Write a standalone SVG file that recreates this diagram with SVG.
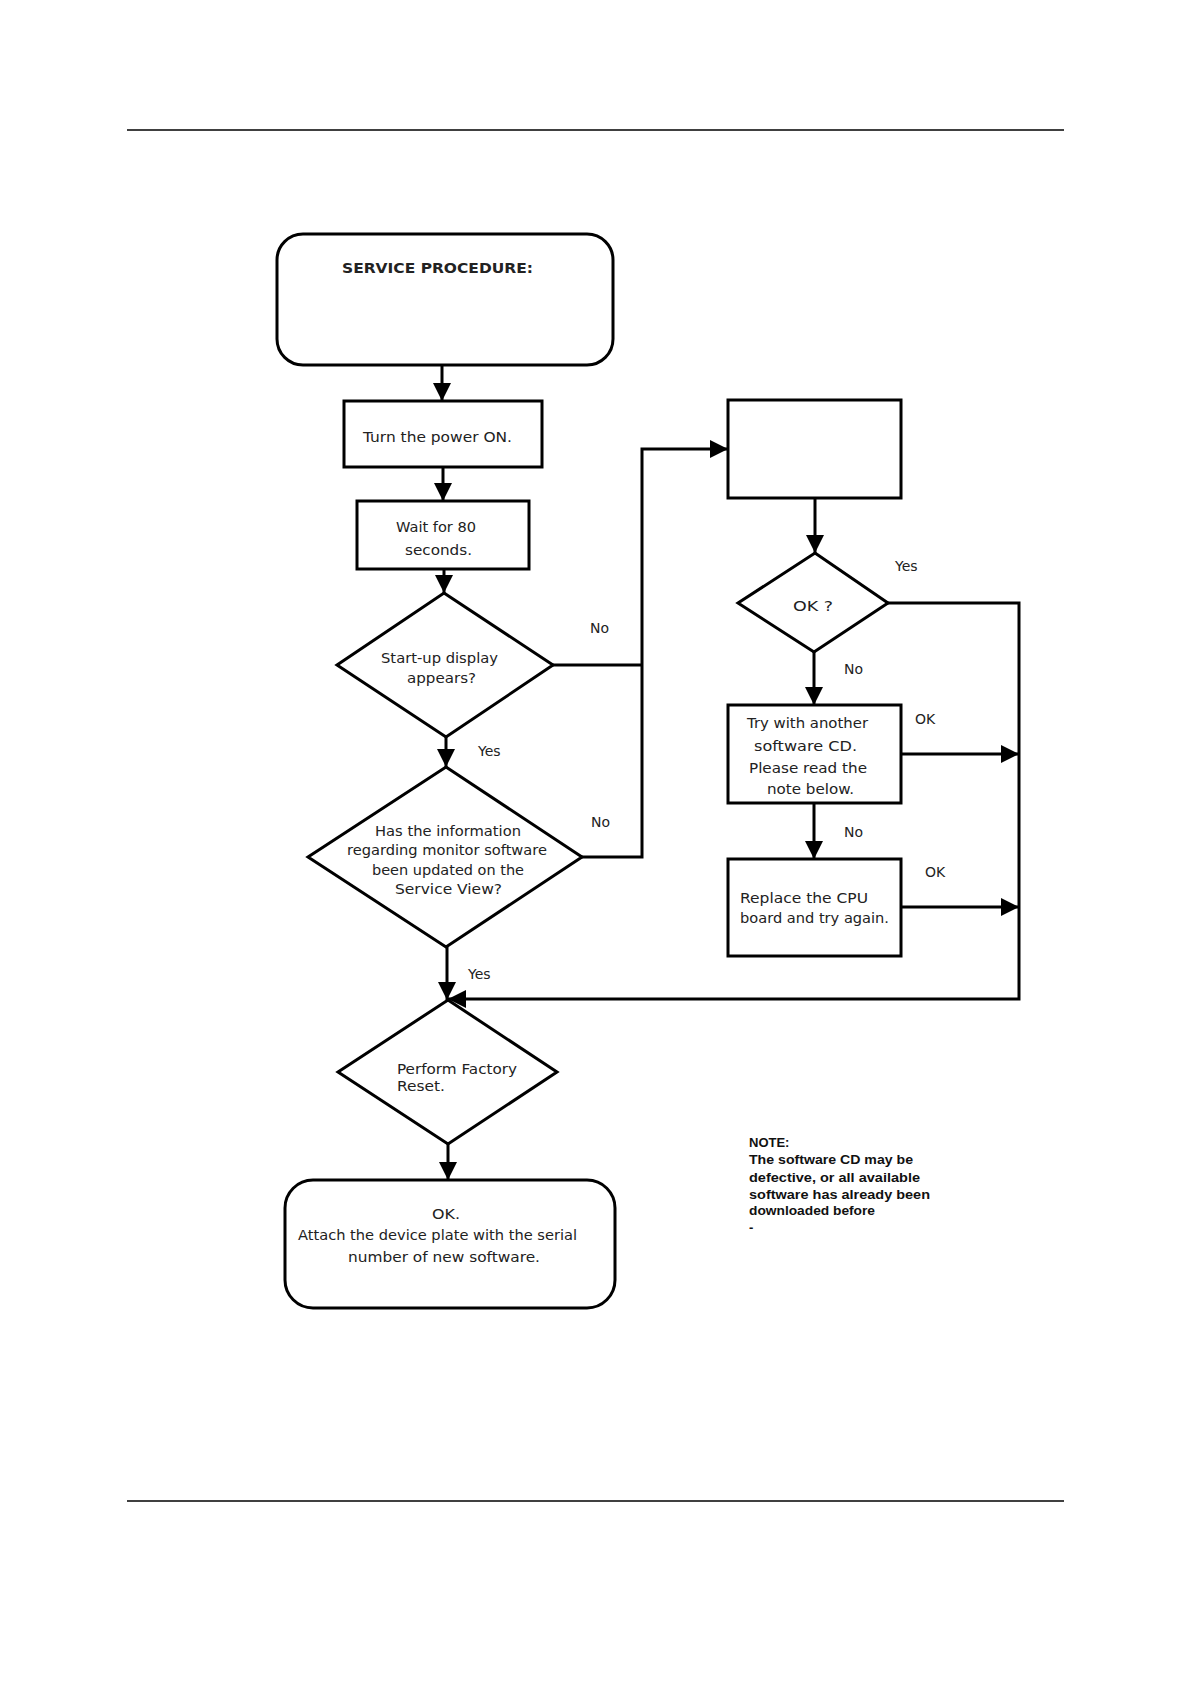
<svg xmlns="http://www.w3.org/2000/svg" width="1190" height="1684" viewBox="0 0 1190 1684">
<style>
.shape{fill:#fff;stroke:#000;stroke-width:3}
.conn{fill:none;stroke:#000;stroke-width:3}
.t{font-family:"DejaVu Sans","Liberation Sans",sans-serif;font-size:14px;fill:#222}
.b{font-weight:bold}
.note{font-family:"Liberation Sans",Arial,sans-serif;font-size:13px;font-weight:bold;fill:#111}
.rule{stroke:#000;stroke-width:1.5}
</style>
<defs>
<marker id="ah" markerUnits="userSpaceOnUse" markerWidth="18" markerHeight="18" refX="18" refY="9" orient="auto">
<path d="M0,0 L18,9 L0,18 z" fill="#000"/>
</marker>
</defs>
<rect width="1190" height="1684" fill="#fff"/>
<line class="rule" x1="127" y1="130" x2="1064" y2="130"/>
<line class="rule" x1="127" y1="1501" x2="1064" y2="1501"/>

<g id="connectors">
<line class="conn" x1="442" y1="365" x2="442" y2="401" marker-end="url(#ah)"/>
<line class="conn" x1="443" y1="467" x2="443" y2="501" marker-end="url(#ah)"/>
<line class="conn" x1="444" y1="569" x2="444" y2="593" marker-end="url(#ah)"/>
<line class="conn" x1="446" y1="737" x2="446" y2="767" marker-end="url(#ah)"/>
<path class="conn" d="M553,665 H642"/>
<path class="conn" d="M582,857 H642 V449 H728" marker-end="url(#ah)"/>
<line class="conn" x1="815" y1="498" x2="815" y2="553" marker-end="url(#ah)"/>
<line class="conn" x1="814" y1="652" x2="814" y2="705" marker-end="url(#ah)"/>
<line class="conn" x1="814" y1="803" x2="814" y2="859" marker-end="url(#ah)"/>
<path class="conn" d="M888,603 H1019 V999 H448" marker-end="url(#ah)"/>
<line class="conn" x1="901" y1="754" x2="1019" y2="754" marker-end="url(#ah)"/>
<line class="conn" x1="901" y1="907" x2="1019" y2="907" marker-end="url(#ah)"/>
<line class="conn" x1="447" y1="947" x2="447" y2="1000" marker-end="url(#ah)"/>
<line class="conn" x1="448" y1="1144" x2="448" y2="1180" marker-end="url(#ah)"/>
<text class="t" x="590" y="633">No</text>
<text class="t" x="478" y="756">Yes</text>
<text class="t" x="591" y="827">No</text>
<text class="t" x="468" y="979">Yes</text>
<text class="t" x="895" y="571">Yes</text>
<text class="t" x="844" y="674">No</text>
<text class="t" x="915" y="724">OK</text>
<text class="t" x="844" y="837">No</text>
<text class="t" x="925" y="877">OK</text>
</g>

<g id="start">
<rect class="shape" x="277" y="234" width="336" height="131" rx="26" ry="26"/>
<text class="t b" x="342" y="273" textLength="191" lengthAdjust="spacingAndGlyphs">SERVICE PROCEDURE:</text>
</g>

<g id="power-on">
<rect class="shape" x="344" y="401" width="198" height="66"/>
<text class="t" x="363" y="442" textLength="149" lengthAdjust="spacingAndGlyphs">Turn the power ON.</text>
</g>

<g id="wait">
<rect class="shape" x="357" y="501" width="172" height="68"/>
<text class="t" x="396" y="532" textLength="80" lengthAdjust="spacingAndGlyphs">Wait for 80</text>
<text class="t" x="405" y="555" textLength="67" lengthAdjust="spacingAndGlyphs">seconds.</text>
</g>

<g id="startup-decision">
<polygon class="shape" points="444,593 553,665 446,737 337,665"/>
<text class="t" x="381" y="663" textLength="117" lengthAdjust="spacingAndGlyphs">Start-up display</text>
<text class="t" x="407" y="683" textLength="69" lengthAdjust="spacingAndGlyphs">appears?</text>
</g>

<g id="info-decision">
<polygon class="shape" points="446,767 582,857 446,947 308,857"/>
<text class="t" x="375" y="836" textLength="146" lengthAdjust="spacingAndGlyphs">Has the information</text>
<text class="t" x="347" y="855" textLength="200" lengthAdjust="spacingAndGlyphs">regarding monitor software</text>
<text class="t" x="372" y="875" textLength="152" lengthAdjust="spacingAndGlyphs">been updated on the</text>
<text class="t" x="395" y="894" textLength="107" lengthAdjust="spacingAndGlyphs">Service View?</text>
</g>

<g id="empty-box">
<rect class="shape" x="728" y="400" width="173" height="98"/>
</g>

<g id="ok-decision">
<polygon class="shape" points="815,553 888,603 814,652 738,603"/>
<text class="t" x="793" y="611" textLength="40" lengthAdjust="spacingAndGlyphs">OK ?</text>
</g>

<g id="try-cd">
<rect class="shape" x="728" y="705" width="173" height="98"/>
<text class="t" x="747" y="728" textLength="121" lengthAdjust="spacingAndGlyphs">Try with another</text>
<text class="t" x="754" y="751" textLength="103" lengthAdjust="spacingAndGlyphs">software CD.</text>
<text class="t" x="749" y="773" textLength="118" lengthAdjust="spacingAndGlyphs">Please read the</text>
<text class="t" x="767" y="794" textLength="87" lengthAdjust="spacingAndGlyphs">note below.</text>
</g>

<g id="replace-cpu">
<rect class="shape" x="728" y="859" width="173" height="97"/>
<text class="t" x="740" y="903" textLength="128" lengthAdjust="spacingAndGlyphs">Replace the CPU</text>
<text class="t" x="740" y="923" textLength="149" lengthAdjust="spacingAndGlyphs">board and try again.</text>
</g>

<g id="factory-reset">
<polygon class="shape" points="448,1000 557,1072 448,1144 338,1072"/>
<text class="t" x="397" y="1074" textLength="120" lengthAdjust="spacingAndGlyphs">Perform Factory</text>
<text class="t" x="397" y="1091" textLength="48" lengthAdjust="spacingAndGlyphs">Reset.</text>
</g>

<g id="end">
<rect class="shape" x="285" y="1180" width="330" height="128" rx="28" ry="28"/>
<text class="t" x="432" y="1219" textLength="28" lengthAdjust="spacingAndGlyphs">OK.</text>
<text class="t" x="298" y="1240" textLength="279" lengthAdjust="spacingAndGlyphs">Attach the device plate with the serial</text>
<text class="t" x="348" y="1262" textLength="192" lengthAdjust="spacingAndGlyphs">number of new software.</text>
</g>

<g id="note">
<text class="note" x="749" y="1147">NOTE:</text>
<text class="note" x="749" y="1164" textLength="164" lengthAdjust="spacingAndGlyphs">The software CD may be</text>
<text class="note" x="749" y="1182" textLength="171" lengthAdjust="spacingAndGlyphs">defective, or all available</text>
<text class="note" x="749" y="1199" textLength="181" lengthAdjust="spacingAndGlyphs">software has already been</text>
<text class="note" x="749" y="1215" textLength="126" lengthAdjust="spacingAndGlyphs">downloaded before</text>
<text class="note" x="749" y="1232">-</text>
</g>
</svg>
